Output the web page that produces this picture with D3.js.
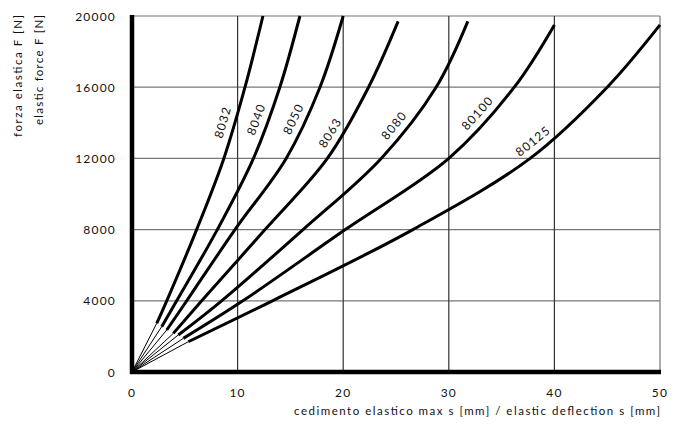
<!DOCTYPE html>
<html><head><meta charset="utf-8">
<script src="https://cdn.jsdelivr.net/npm/d3@7"></script>
<style>
html,body{margin:0;padding:0;background:#fff;}
text{font-family:Lato,"Open Sans",sans-serif;fill:#111;}
</style></head>
<body><svg id="c" width="686" height="425"></svg>
<script>
// ---- data ----
const seriesNames = ["8032","8040","8050","8063","8080","80100","80125"];
// deflection s [mm] along each curve (first point = start of thick part)
const deflection = [
  [2.34, 3.29, 6.12, 8.7, 10.7, 12.4],
  [2.81, 4.23, 8.08, 11.5, 14.0, 15.9],
  [3.29, 5.18, 9.75, 14.6, 17.8, 20.0],
  [3.91, 6.6, 12.6, 18.5, 22.4, 25.2],
  [4.38, 8.49, 16.2, 23.6, 28.8, 31.8],
  [4.86, 10.5, 20.2, 30.0, 36.2, 40.0],
  [5.33, 13.3, 26.6, 37.7, 45.0, 50.0]
];
// force F [N] at these points
const force = [
  [2735, 4000, 8000, 12000, 16000, 20000],
  [2545, 4000, 8000, 12000, 16000, 20000],
  [2360, 4000, 8000, 12000, 16000, 20000],
  [2170, 4000, 8000, 12000, 16000, 19700],
  [2080, 4000, 8000, 12000, 16000, 19700],
  [1890, 4000, 8000, 12000, 16000, 19500],
  [1700, 4000, 8000, 12000, 16000, 19500]
];
// force level at which each curve label sits
const labelForce = [13850, 13980, 13940, 13100, 13430, 14100, 12450];
const xTicks = [0, 10, 20, 30, 40, 50];
const yTicks = [0, 4000, 8000, 12000, 16000, 20000];
const xTitle = "cedimento elastico max s [mm] / elastic deflection s [mm]";
const yTitle1 = "forza elastica F [N]";
const yTitle2 = "elastic force F [N]";

// ---- drawing ----
const svg = d3.select("#c");
const x = d3.scaleLinear().domain([0, 50]).range([132, 660]);
const y = d3.scaleLinear().domain([0, 20000]).range([372, 16]);

const grid = svg.append("g");
grid.selectAll("line.h").data(yTicks.slice(1)).join("line")
  .attr("x1", x(0)).attr("x2", x(50))
  .attr("y1", d => y(d)).attr("y2", d => y(d))
  .attr("stroke", "#777").attr("stroke-width", 1.2);
grid.selectAll("line.v").data(xTicks.slice(1)).join("line")
  .attr("y1", y(0)).attr("y2", y(20000))
  .attr("x1", d => x(d)).attr("x2", d => x(d))
  .attr("stroke", d => d === 50 ? "#777" : "#333").attr("stroke-width", 1.2);

// axes (thick)
svg.append("line").attr("x1", x(0)).attr("x2", x(0)).attr("y1", y(20000) - 1).attr("y2", y(0) + 2)
  .attr("stroke", "#000").attr("stroke-width", 4.5);
svg.append("line").attr("x1", x(0) - 2).attr("x2", x(50) + 1).attr("y1", y(0)).attr("y2", y(0))
  .attr("stroke", "#000").attr("stroke-width", 4.5);

// tick labels
svg.selectAll("text.xt").data(xTicks).join("text")
  .attr("x", d => x(d)).attr("y", 397).attr("text-anchor", "middle")
  .attr("font-size", 12).attr("letter-spacing", 1.2).text(d => d);
svg.selectAll("text.yt").data(yTicks).join("text")
  .attr("x", 116).attr("y", d => y(d) + 4.5).attr("text-anchor", "end")
  .attr("font-size", 12).attr("letter-spacing", 1.2).text(d => d);

// titles
svg.append("text").attr("x", 660).attr("y", 415).attr("text-anchor", "end")
  .attr("font-size", 11.5).attr("textLength", 366).attr("lengthAdjust", "spacing").text(xTitle);
svg.append("text").attr("transform", "translate(22,15) rotate(-90)").attr("text-anchor", "end")
  .attr("font-size", 11.5).attr("textLength", 122).attr("lengthAdjust", "spacing").text(yTitle1);
svg.append("text").attr("transform", "translate(43,15) rotate(-90)").attr("text-anchor", "end")
  .attr("font-size", 11.5).attr("textLength", 110).attr("lengthAdjust", "spacing").text(yTitle2);

// curves
const line = d3.line().x(d => x(d[0])).y(d => y(d[1])).curve(d3.curveCatmullRom.alpha(0.5));
const curves = svg.append("g");
seriesNames.forEach((name, i) => {
  const pts = deflection[i].map((s, j) => [s, force[i][j]]);
  // thin lead-in from origin
  curves.append("line").attr("x1", x(0)).attr("y1", y(0))
    .attr("x2", x(pts[0][0])).attr("y2", y(pts[0][1]))
    .attr("stroke", "#000").attr("stroke-width", 1);
  const path = curves.append("path").attr("d", line(pts))
    .attr("fill", "none").attr("stroke", "#000").attr("stroke-width", 3);
  // label along curve
  const node = path.node();
  const L = node.getTotalLength();
  const ty = y(labelForce[i]);
  let best = 0, bd = 1e9;
  for (let l = 0; l <= L; l += 0.5) {
    const p = node.getPointAtLength(l);
    const dd = Math.abs(p.y - ty);
    if (dd < bd) { bd = dd; best = l; }
  }
  const p0 = node.getPointAtLength(Math.max(0, best - 5));
  const p1 = node.getPointAtLength(Math.min(L, best + 5));
  const p = node.getPointAtLength(best);
  const ang = Math.atan2(p1.y - p0.y, p1.x - p0.x) * 180 / Math.PI;
  curves.append("text")
    .attr("transform", `translate(${p.x},${p.y}) rotate(${ang})`)
    .attr("x", 0).attr("y", -7.7).attr("text-anchor", "middle")
    .attr("font-size", 12).attr("letter-spacing", 1.2).text(name);
});
</script></body></html>
